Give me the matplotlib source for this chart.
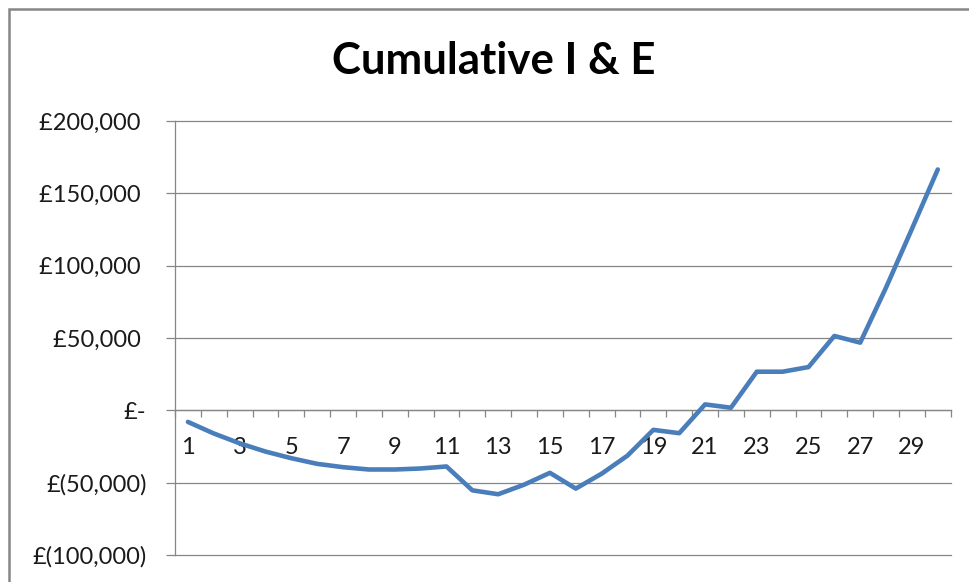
import matplotlib
matplotlib.use("Agg")
import matplotlib.pyplot as plt
from matplotlib.ticker import FuncFormatter, FixedLocator

# Cumulative income & expenditure by period
periods = list(range(1, 31))
cumulative = [-8000, -16000, -22800, -28500, -33100, -37000, -39300, -40900,
              -40900, -40200, -38800, -55300, -58000, -51400, -43200, -54100,
              -43800, -31300, -13500, -15800, 4100, 1800, 26700, 26700,
              29900, 51400, 46800, 84900, 125400, 166500]
y_ticks = [-100000, -50000, 0, 50000, 100000, 150000, 200000]
x_labels = [p for p in periods if p % 2 == 1]

title = "Cumulative I & E"
line_color = "#4A7EBB"
grid_color = "#868686"
font = ["Lato", "DejaVu Sans"]

plt.rcParams["font.family"] = font

fig = plt.figure(figsize=(9.70, 5.82), dpi=100)
fig.patch.set_facecolor("white")

# outer chart frame
frame = plt.Rectangle((9 / 970, -0.05), 1.2, 1 - 9 / 582 + 0.05,
                      transform=fig.transFigure, fill=False,
                      edgecolor=grid_color, linewidth=1.8)
fig.add_artist(frame)

ax = fig.add_axes([175 / 970, 1 - 555 / 582, (950.7 - 175) / 970, (555 - 121) / 582])

ax.plot(periods, cumulative, color=line_color, linewidth=3.3,
        solid_joinstyle="round", solid_capstyle="round", zorder=3)

ax.set_xlim(0.5, 30.5)
ax.set_ylim(-100000, 200000)

ax.yaxis.set_major_locator(FixedLocator(y_ticks))


def money(v, pos=None):
    if v == 0:
        return "£-"
    if v < 0:
        return "£({:,.0f})".format(-v)
    return "£{:,.0f} ".format(v)


ax.yaxis.set_major_formatter(FuncFormatter(money))
ax.grid(axis="y", color=grid_color, linewidth=0.9)
ax.set_axisbelow(True)
for gl in ax.get_ygridlines():
    gl.set_clip_on(False)

# category axis sits on the zero line
ax.spines["bottom"].set_position(("data", 0))
ax.spines["bottom"].set_color(grid_color)
ax.spines["bottom"].set_linewidth(0.9)
ax.spines["left"].set_color(grid_color)
ax.spines["left"].set_linewidth(0.9)
ax.spines["top"].set_visible(False)
ax.spines["right"].set_visible(False)

ax.xaxis.set_major_locator(FixedLocator(x_labels))
ax.xaxis.set_minor_locator(FixedLocator([p - 0.5 for p in periods] + [periods[-1] + 0.5]))
ax.tick_params(axis="x", which="major", length=0, pad=19.5, labelsize=17,
               labelcolor="#1a1a1a")
ax.tick_params(axis="x", which="minor", length=5, width=0.9, color=grid_color,
               direction="out")
ax.tick_params(axis="y", which="major", length=6.5, width=0.9, color=grid_color,
               direction="out", pad=14, labelsize=17, labelcolor="#1a1a1a")

fig.text(494 / 970, 1 - 61 / 582, title, ha="center", va="center",
         fontsize=31.5, fontweight="bold", color="black")

fig.savefig("out.png", dpi=100, facecolor="white")
